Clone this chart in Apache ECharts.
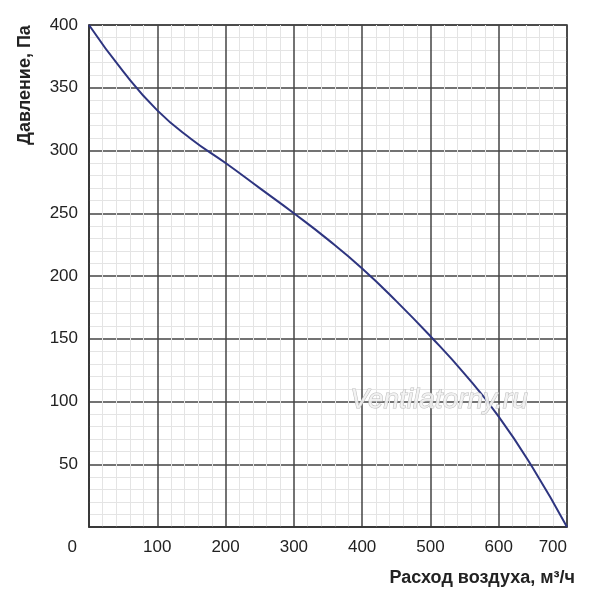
<!DOCTYPE html>
<html>
<head>
<meta charset="utf-8">
<script src="https://cdn.jsdelivr.net/npm/echarts@6/dist/echarts.min.js"></script>
<style>html,body{margin:0;padding:0;background:#fff}#c{width:600px;height:600px}</style>
</head>
<body>
<div id="c"></div>
<script>
// Data
const airflow  = [0, 50, 100, 150, 200, 250, 300, 350, 400, 450, 500, 550, 600, 650, 700];
const pressure = [400, 363, 332, 309, 290, 270, 250, 229, 206, 180, 152, 122, 88, 47, 0];
const yTicks = [50, 100, 150, 200, 250, 300, 350, 400];
const yTitle = 'Давление, Па';
const xTitle = 'Расход воздуха, м³/ч';
const watermark = 'Ventilatorny.ru';

const FONT = "'Liberation Sans', Arial, sans-serif";
const TXT = '#222';
const chart = echarts.init(document.getElementById('c'), null, {renderer: 'canvas'});
chart.setOption({
  animation: false,
  backgroundColor: '#fff',
  grid: {left: 89, top: 25, right: 33, bottom: 73, show: true, borderColor: '#333', borderWidth: 1.5},
  xAxis: {
    type: 'value', min: 0, max: 700, interval: 100,
    axisLine: {show: true, lineStyle: {color: '#333', width: 1.5}},
    axisTick: {show: false},
    axisLabel: {
      color: TXT, fontSize: 17, fontFamily: FONT, margin: 12,
      alignMinLabel: 'right', alignMaxLabel: 'right',
      formatter: v => v === 0 ? '{z|0}' : String(v),
      rich: {z: {color: TXT, fontSize: 17, fontFamily: FONT, padding: [0, 12, 0, 0]}}
    },
    splitLine: {show: true, lineStyle: {color: '#444', width: 1.5}},
    minorTick: {show: false, splitNumber: 5},
    minorSplitLine: {show: true, lineStyle: {color: '#e4e4e4', width: 1}}
  },
  yAxis: {
    type: 'value', min: 0, max: 400, interval: 50,
    axisLine: {show: true, lineStyle: {color: '#333', width: 1.5}},
    axisTick: {show: false},
    axisLabel: {
      color: TXT, fontSize: 17, fontFamily: FONT, margin: 11, showMinLabel: false,
      formatter: v => yTicks.includes(v) ? String(v) : ''
    },
    splitLine: {show: true, lineStyle: {color: '#444', width: 1.5}},
    minorTick: {show: false, splitNumber: 5},
    minorSplitLine: {show: true, lineStyle: {color: '#e4e4e4', width: 1}}
  },
  graphic: [
    {type: 'text', x: 25, y: 85, rotation: Math.PI / 2, z: 10,
     style: {text: yTitle, font: 'bold 18px ' + FONT, fill: TXT, align: 'center', verticalAlign: 'middle'}},
    {type: 'text', x: 575, y: 578, z: 10,
     style: {text: xTitle, font: 'bold 18px ' + FONT, fill: TXT, align: 'right', verticalAlign: 'middle'}},
    {type: 'text', x: 439, y: 400, z: 10,
     style: {text: watermark, font: 'italic 28px ' + FONT, fill: 'rgba(242,242,242,0.9)', stroke: '#bdbdbd', lineWidth: 1, align: 'center', verticalAlign: 'middle'}}
  ],
  series: [{
    type: 'line',
    data: airflow.map((x, i) => [x, pressure[i]]),
    smooth: 0.5,
    showSymbol: false,
    lineStyle: {color: '#2e3580', width: 2},
    z: 5
  }]
});
</script>
</body>
</html>
